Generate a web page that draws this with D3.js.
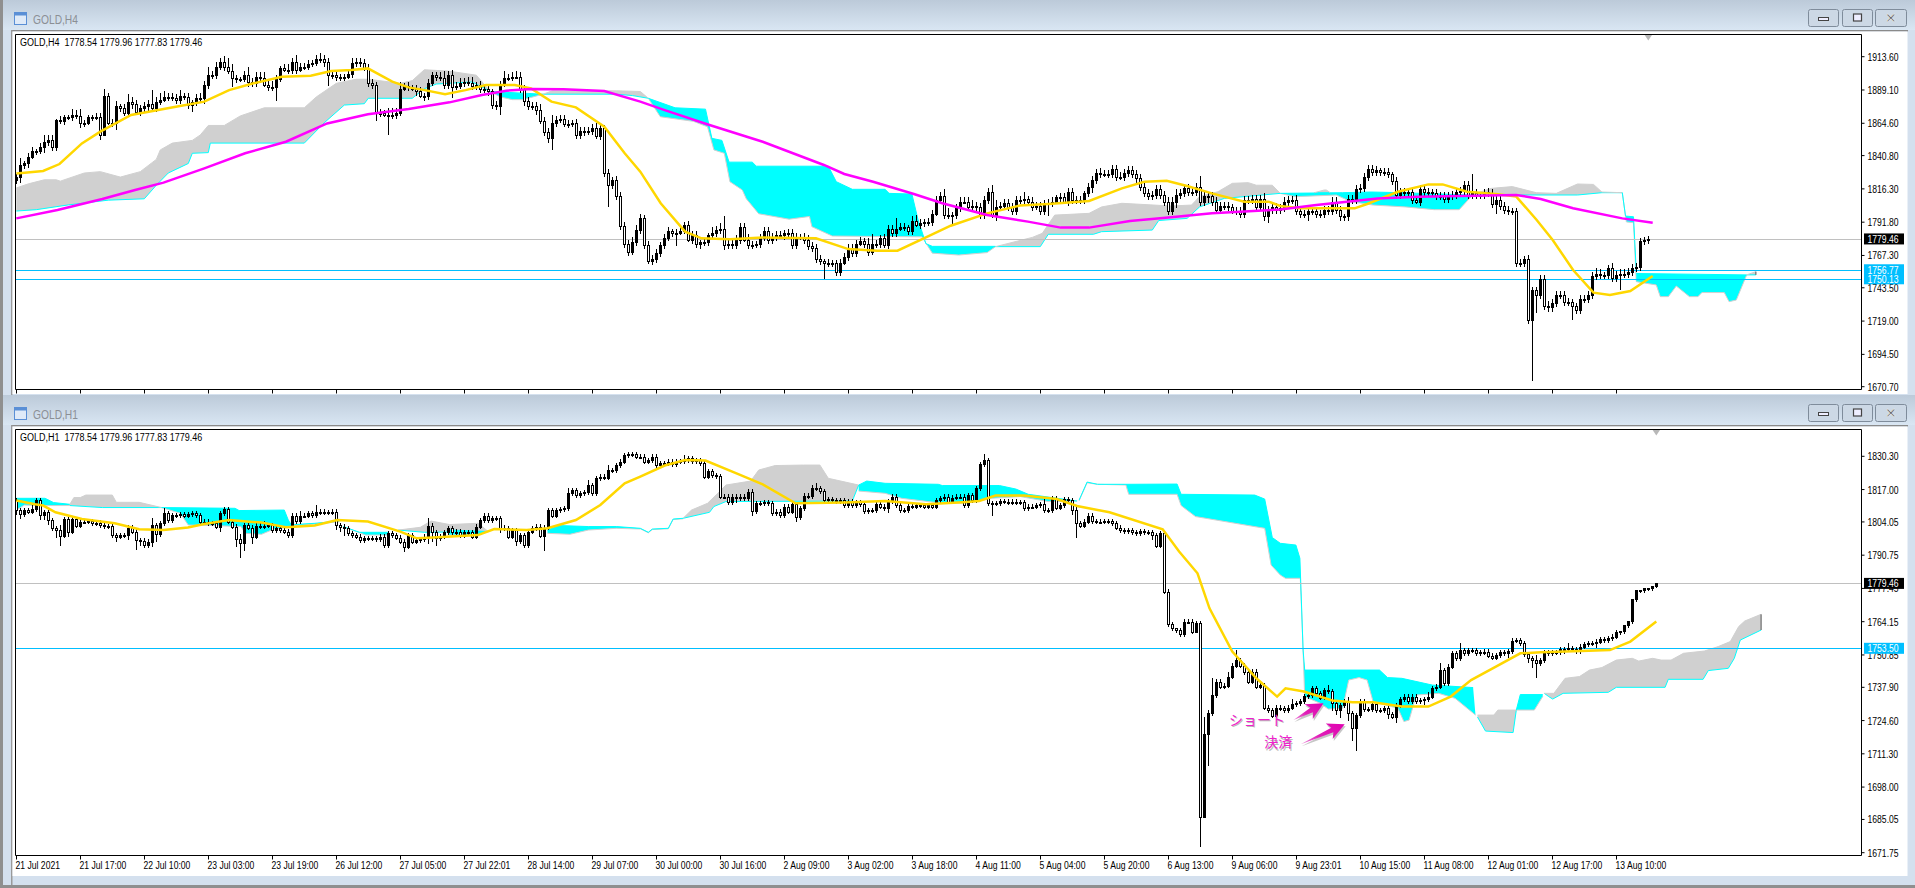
<!DOCTYPE html>
<html><head><meta charset="utf-8">
<style>html,body{margin:0;padding:0;background:#d4e0ee;overflow:hidden}svg{display:block}</style>
<script src="https://cdnjs.cloudflare.com/ajax/libs/d3/7.8.5/d3.min.js"></script>
</head><body><div id="c"></div>
<script>
// ---------- H4 chart values ----------
const h4FirstOpen = 1823;
const h4Closes = [1825,1834,1835,1840,1844,1844,1847,1851,1852,1847,1867,1866,1869,1869,1871,1870,1865,1865,1869,1869,1869,1856,1885,1865,1865,1877,1876,1872,1880,1879,1873,1876,1877,1879,1876,1880,1882,1884,1884,1883,1882,1885,1884,1878,1880,1883,1883,1893,1900,1900,1906,1910,1906,1903,1898,1897,1897,1900,1895,1894,1899,1898,1893,1891,1891,1897,1905,1904,1904,1910,1904,1906,1906,1908,1909,1912,1912,1910,1900,1900,1899,1899,1899,1901,1909,1910,1909,1905,1894,1893,1872,1872,1871,1871,1871,1872,1890,1892,1891,1890,1888,1885,1885,1894,1900,1899,1898,1893,1900,1891,1892,1894,1895,1894,1892,1893,1890,1890,1888,1878,1877,1893,1898,1898,1899,1899,1890,1881,1877,1877,1874,1866,1858,1854,1865,1867,1868,1864,1864,1865,1856,1859,1858,1859,1861,1855,1861,1828,1819,1823,1811,1789,1776,1770,1777,1786,
1795,1775,1763,1765,1769,1775,1780,1785,1784,1784,1785,1790,1779,1782,1776,1777,1777,1782,1784,1786,1787,1775,1776,1775,1779,1788,1779,1775,1775,1776,1780,1785,1779,1781,1782,1782,1784,1784,1775,1781,1781,1779,1774,1773,1765,1763,1762,1762,1762,1755,1762,1766,1773,1769,1776,1778,1776,1770,1776,1776,1780,1775,1787,1784,1787,1788,1788,1785,1793,1790,1791,1792,1792,1798,1808,1811,1797,1797,1797,1802,1807,1807,1803,1804,1803,1797,1808,1814,1796,1803,1804,1806,1803,1800,1808,1808,1809,1807,1803,1804,1800,1805,1806,1807,1810,1810,1807,1814,1808,1808,1808,1813,1818,1823,1828,1827,1827,1827,1831,1825,1825,1828,1830,1827,1824,1818,1813,1811,1812,1816,1812,1807,1800,1807,1812,1813,1817,1814,1814,1818,1807,1811,1811,1807,1801,1804,1804,1803,1800,1800,1798,1808,1808,1809,1803,1809,1796,1801,1803,
1801,1802,1807,1808,1808,1800,1798,1798,1800,1800,1798,1798,1801,1800,1807,1801,1796,1796,1809,1808,1816,1817,1825,1831,1829,1830,1829,1829,1827,1822,1812,1814,1814,1814,1808,1807,1816,1814,1814,1813,1811,1811,1809,1811,1812,1814,1815,1819,1812,1813,1812,1812,1814,1813,1805,1808,1804,1801,1800,1800,1762,1762,1765,1720,1742,1738,1750,1730,1729,1732,1738,1738,1733,1733,1730,1727,1735,1735,1738,1752,1754,1753,1753,1758,1751,1753,1754,1754,1755,1758,1759,1778,1779,1779.46];
const h4WickUp = [2,5,2,3,3,2,3,5,4,4,1,3,2,2,4,3,6,2,2,2,3,3,5,2,3,4,2,3,6,4,3,2,3,3,3,4,5,4,3,3,3,4,2,3,2,3,4,3,6,3,4,3,4,3,5,2,2,3,6,3,3,3,4,3,5,3,2,3,4,3,5,3,3,3,2,3,4,3,3,2,2,2,2,2,4,3,3,3,3,3,2,3,2,5,5,4,5,2,3,2,3,3,2,3,2,2,3,5,3,4,3,4,3,4,5,2,3,3,3,2,3,3,5,3,3,4,3,3,3,3,3,5,3,3,6,3,3,3,3,2,3,3,3,3,3,4,3,2,3,2,3,3,3,3,4,4,3,2,3,3,3,2,3,3,2,3,3,2,3,3,3,2,3,2,4,3,4,3,3,3,3,3,3,4,3,2,3,3,3,3,3,3,2,3,3,3,2,3,3,3,3,3,2,3,2,2,3,3,3,3,3,3,2,4,3,3,2,3,3,3,3,3,3,2,3,4,3,2,3,3,3,3,5,5,2,3,3,3,3,4,3,3,3,3,5,5,3,3,3,3,3,3,5,2,3,3,3,3,3,3,2,3,3,3,3,3,3,2,3,3,3,4,3,3,3,3,4,3,3,3,3,3,3,3,3,3,3,3,3,3,4,3,3,3,3,3,3,3,3,3,3,3,3,3,2,3,3,3,3,3,3,3,4,3,3,3,3,3,3,3,4,3,3,3,3,3,3,3,3,3,3,3,2,3,3,3,3,3,3,3,3,2,3,3,2,3,3,3,2,2,3,3,3,3,2,3,3,3,3,3,3,3,3,3,3,3,2,2,3,3,3,3,3,3,2,2,3,2,3,2,2,3,3,4,3,3,3,3,3,2,2,3,3,3,3,4,3,2,2,4,3,3,3,3,3,3,2,2,2,1];
const h4WickDown = [3,4,3,3,2,3,2,4,3,3,3,2,3,2,3,2,4,3,2,3,2,4,1,2,3,5,3,2,3,4,2,3,3,4,3,3,2,2,3,2,3,3,2,3,5,3,3,4,3,3,3,2,3,2,3,3,2,2,4,3,3,3,2,3,3,3,2,2,3,3,3,2,2,2,2,2,3,4,3,3,3,3,3,2,3,3,3,2,3,3,3,3,2,3,3,3,2,2,3,2,3,2,4,3,2,3,2,3,3,3,2,2,3,2,3,3,3,3,3,3,3,3,2,2,2,2,3,4,3,3,3,2,3,4,3,3,2,2,3,2,3,3,3,2,3,2,3,3,3,3,3,3,3,3,2,3,3,3,2,3,3,3,3,2,3,3,2,2,2,3,3,3,3,3,2,3,3,4,3,3,3,3,2,3,3,2,3,2,3,3,3,2,3,4,3,3,2,3,3,3,3,3,3,3,3,3,3,2,3,3,3,2,3,3,2,3,3,2,3,3,3,2,3,3,3,2,3,3,3,3,2,3,3,3,3,3,3,2,3,3,3,3,3,3,1,3,3,2,3,3,3,3,3,3,3,2,3,3,3,3,2,3,2,3,3,3,3,3,3,5,3,3,2,3,3,3,2,3,3,3,4,3,3,3,3,3,3,3,3,3,3,3,3,3,3,3,3,3,5,3,3,3,3,3,2,3,3,3,3,3,3,3,3,3,3,3,3,3,3,3,3,3,3,5,3,3,3,3,3,3,3,3,3,3,3,3,3,3,3,3,3,3,3,3,3,3,3,3,3,3,2,3,3,3,3,3,3,3,3,3,3,3,3,3,3,3,3,3,3,3,3,3,3,3,3,3,3,3,3,3,3,3,3,3,3,3,3,3,3,3,3,3,3,3,3,3,3,3,3,3,3,3,3,3,3,3,3,3,3,3,3,3,3,3,3,2,2,2,1,1];
// unusually long wicks: bar, length
const h4LongUp = [[16,5],[22,5],[34,10],[53,7],[76,4],[109,4],[125,4],[134,6],[177,9],[214,7],[220,8],[233,5],[244,5],[245,5],[252,5],[296,8],[364,14]];
const h4LongDown = [[21,4],[54,7],[65,10],[78,8],[90,6],[93,15],[109,8],[121,6],[134,9],[148,16],[165,10],[171,4],[193,4],[202,12],[234,7],[258,9],[290,5],[313,5],[334,3],[370,7],[379,45],[380,13],[389,10],[401,11]];
const h4Yellow = [[0,1827.7],[2.1,1828.2],[6.7,1829.5],[10.8,1834.6],[16.4,1849.8],[21,1858.4],[28.7,1870.7],[39.9,1876.8],[47,1880.5],[53.2,1889],[59.3,1894],[66.4,1898.9],[73.6,1899.6],[78.7,1903],[83.8,1903.8],[87.9,1905],[94,1895.2],[98.1,1891],[102.1,1889],[107.2,1885.9],[112.3,1889],[117.4,1892.7],[124.6,1892.7],[128.7,1890.3],[133.8,1880.5],[139.9,1876.3],[147,1862.1],[152.1,1842.5],[156,1829],[161.1,1805.7],[167.2,1784.8],[171.3,1779.9],[178.4,1779.2],[186.6,1780.6],[199.9,1779.9],[208,1772],[215.2,1770.8],[220.3,1770.8],[227.4,1780.6],[233.6,1789.2],[242.7,1798.3],[250.9,1804],[258,1805.2],[268.2,1807.4],[276.4,1816.7],[282,1821.6],[287.6,1822.3],[292.7,1818.4],[298.9,1813],[307,1806.9],[313.1,1806.9],[316,1803.7],[320.9,1802],[334.6,1802],[337.7,1805.2],[345.4,1814.2],[353,1819.6],[356.6,1819.6],[362.7,1814.2],[369.9,1812.5],[375,1810.6],[380.1,1793.4],[384.1,1778.7],[389.2,1756.6],[394.3,1739.9],[398.4,1738.2],[403.5,1741.1],[409.1,1752.2]];
const h4Magenta = [[0,1794.6],[10.3,1800.8],[21.5,1808.9],[29.7,1815.5],[36.8,1820.9],[47,1831.4],[57.2,1842.5],[67.4,1851],[77.7,1864.5],[87.9,1871.2],[98.1,1875.1],[108.3,1880],[116.4,1885.4],[122.5,1888.6],[128.7,1889.8],[136.8,1889.6],[147,1888.3],[156,1880.5],[162.1,1874.3],[173.3,1863.3],[186.6,1851],[201.9,1833.9],[207,1827.3],[214.2,1821.6],[224.4,1812.5],[231.5,1805.7],[242.7,1797.1],[252.9,1792.2],[261.1,1787.8],[268.2,1787.8],[278.4,1792.7],[288.7,1795.4],[298.9,1798.3],[316,1801.2],[325,1804.4],[340.3,1809.3],[350.5,1810.6],[375,1811.8],[381.1,1808.9],[389.2,1802],[401.5,1794.6],[409.1,1791.4]];
// cloud pieces: colour, upper edge, lower edge
const h4Clouds = [
 ['g',[[0,1817],[3,1820],[7,1823],[10,1823],[11,1822],[17,1828],[21,1829],[26,1825],[31,1829],[35,1838],[36,1845],[39,1850],[44,1852],[46,1856],[48,1863],[52,1863],[56,1870],[62,1876],[72,1876],[75,1884],[80,1894],[85,1897],[88,1897],[96,1894],[99,1896],[102,1904],[108,1903],[115,1900],[118.5,1888]],
      [[0,1800],[5,1801],[13,1804.5],[23,1808],[32,1809],[35,1819],[38,1828],[43,1835],[44,1842.5],[48,1843],[48.5,1850],[72,1850],[77,1865],[82,1878],[87,1879],[88,1883],[99,1883],[102,1890],[105,1893.5],[114,1895],[118.5,1888]]],
 ['c',[[118.5,1888],[131.7,1886]],[[118.5,1888],[121,1884],[124,1882],[126.6,1882],[131.7,1886]]],
 ['g',[[131.7,1886],[134,1888.5],[150,1888.5],[156,1888],[158,1883]],[[131.7,1886],[150,1886],[154,1885],[158,1883]]],
 ['c',[[158,1883],[164.7,1876],[172.3,1875],[173.9,1853.5],[176.4,1852],[178.2,1836],[184,1836],[185,1833],[203,1833],[205,1821.6],[209,1816],[217.2,1816],[218.2,1813],[223.9,1812.5],[225.4,1794],[227.4,1776],[229,1774],[244.8,1774]],
      [[158,1883],[161,1869.4],[169.3,1866],[172.8,1862],[174.4,1845],[177,1842.5],[178.4,1821.6],[181.5,1815.5],[182.5,1809],[185.6,1798],[193.2,1794],[198.3,1796],[198.9,1788.5],[204,1781.6],[226.4,1781],[229,1769],[235.6,1767.6],[242.7,1769.4],[244.8,1773.8]]],
 ['g',[[244.8,1773.8],[254,1780.6],[256.5,1783.6],[259.6,1797],[268.2,1798.3],[271.3,1803],[276.4,1805.7],[288.7,1803.7],[293.8,1804.4],[295.8,1810.6],[300.4,1814.2],[304,1820.4],[308,1820.9],[310,1819],[314,1819],[316,1813]],
      [[244.8,1773.8],[256,1773.8],[258,1782.9],[269.3,1782.9],[271.3,1784.8],[284,1786],[285.6,1793],[292.7,1794.6],[295.8,1803],[302,1809.3],[316,1813]]],
 ['c',[[316,1813],[331.6,1813.5],[338.7,1814],[346.4,1813.5],[363.7,1811.8]],[[316,1813],[317.8,1811.8],[319.9,1810.6],[330,1811.8],[333.6,1807],[339.2,1804.4],[347.4,1803],[354.5,1801],[360.7,1801],[363.7,1810.6]]],
 ['g',[[324.5,1813.5],[327,1815.5],[327.5,1815.5],[328.5,1813.5]],[[324.5,1813.5],[328.5,1813.5]]],
 ['g',[[363.7,1811.8],[368.8,1816.7],[374,1818],[380,1813.5],[385,1813],[390.3,1819.9],[394.3,1819.6],[396.4,1814],[401.5,1813.5]],[[363.7,1811.8],[390.3,1811.8],[396.4,1813.5],[401.5,1813.5]]],
 ['c',[[401.5,1813.5],[402.3,1796.3],[404.3,1795.8],[405,1755.4]],[[401.5,1813.5],[402.5,1792],[404.3,1791.4],[405,1748]]],
 ['c',[[405,1754],[432.6,1753]],[[405,1748],[410,1745.6],[411,1737],[413,1737],[415,1744.8],[418.3,1737],[420.4,1737],[421.4,1740],[427,1740],[428.2,1733.3],[430,1734.5],[432.6,1753]]],
 ['g',[[432.6,1753],[434.9,1755.4]],[[432.6,1753],[434.9,1753]]]
];
const h4CloudEnd = [434.9,1753,1755.4];
const h4YTicks = [1913.60,1889.10,1864.60,1840.80,1816.30,1791.80,1767.30,1743.50,1719.00,1694.50,1670.70];
const h4Levels = [1756.77,1750.13];

// ---------- H1 chart values ----------
const h1FirstOpen = 1812.8;
const h1Closes = [1808.8,1807.1,1808.8,1808.2,1809.1,1812.8,1806.8,1807.9,1804.8,1801.5,1800.8,1798.6,1805.2,1800.2,1805.2,1802.6,1804.2,1804.2,1804.4,1803.5,1803.8,1802.8,1802.4,1802.4,1798.8,1798.2,1798.8,1798.8,1801.8,1800.2,1796.8,1796.6,1794.8,1796.2,1802.8,1799.1,1803.5,1807.5,1804.8,1806.8,1806.8,1807.1,1806.6,1807.2,1807.5,1806.8,1804.2,1804.2,1803.5,1803.5,1802.2,1807.5,1809.2,1804.2,1802.2,1797.2,1795.5,1802.8,1801.8,1798.2,1802.6,1802.2,1802.6,1802.8,1800.8,1801.8,1800.8,1800.2,1798.8,1806.6,1804.4,1806.6,1806.6,1807.5,1806.8,1807.9,1808.2,1807.9,1807.9,1808.2,1802.8,1802.2,1801.5,1799.5,1798.8,1798.2,1796.8,1797.5,1797.5,1797.5,1797.2,1798.2,1794.8,1799.5,1798.8,1797.8,1796.2,1794.2,1798.8,1796.2,1796.8,1797.2,1798.2,1802.6,1799.9,1797.5,1798.2,1799.9,1801.5,1799.9,1800.2,1798.6,1799.9,1799.9,1798.2,1802.2,1804.8,1806.6,1804.8,1805.5,1805.5,1801.8,1801.5,1798.2,1800.8,1796.4,1798.8,1794.8,1800.2,1801.5,1802.2,1798.6,1801.8,1808.8,1806.6,1808.8,1809.2,1809.5,1815.5,1816.8,1814.8,1815.5,1815.9,1818.8,1815.5,1821.5,1822.2,1821.8,1824.8,1824.8,1826.8,1828.2,1830.8,1831.1,1831.1,1830.2,
1830.2,1828.2,1828.8,1830.2,1826.8,1827.5,1827.5,1828.2,1827.1,1828.2,1828.4,1828.8,1829.5,1828.4,1828.8,1827.5,1822.2,1824.4,1822.8,1822.4,1814.2,1814.2,1811.9,1814.2,1813.5,1814.2,1813.5,1816.2,1808.4,1811.5,1811.5,1811.9,1811.5,1807.5,1808.2,1806.8,1810.2,1808.2,1811.2,1805.9,1809.5,1814.6,1814.4,1817.8,1817.5,1816.4,1812.8,1813.2,1812.8,1812.4,1812.8,1810.8,1812.4,1810.8,1811.9,1811.1,1808.4,1808.8,1808.8,1811.1,1810.2,1809.5,1812.4,1814.2,1810.8,1808.8,1808.8,1810.6,1810.2,1810.8,1810.8,1810.2,1810.8,1810.2,1812.8,1813.5,1814.2,1812.2,1813.8,1814.2,1814.2,1810.8,1814.8,1812.8,1817.5,1827.1,1828.8,1811.5,1811.5,1811.5,1812.4,1812.2,1811.9,1812.2,1811.9,1811.9,1809.5,1810.2,1810.2,1810.8,1811.1,1808.8,1808.8,1813.5,1809.8,1810.8,1813.2,1812.8,1808.8,1803.5,1802.6,1804.2,1806.6,1804.4,1804.2,1804.2,1804.4,1804.4,1803.5,1801.8,1800.8,1800.4,1800.8,1799.9,1799.5,1800.4,1799.9,1799.9,1798.8,1794.6,1799.5,1776.2,1763.1,1761.5,1760.8,1759.1,1764.2,1764.2,1760.2,1763.5,1686.2,1719.1,1727.5,1734.8,1740.2,1738.2,1738.5,1742.2,1746.5,1748.8,1746.5,1743.9,1740.2,1744.2,1738.2,1738.8,1729.8,1728.8,1726.6,1729.8,
1729.5,1728.8,1729.8,1731.1,1731.5,1732.4,1734.4,1734.8,1737.5,1735.5,1733.8,1736.8,1736.4,1731.5,1728.8,1730.8,1732.2,1727.5,1721.5,1726.8,1732.4,1729.2,1729.2,1731.1,1728.8,1728.8,1729.5,1727.1,1726.2,1730.8,1733.2,1734.2,1732.4,1734.2,1732.4,1732.8,1733.2,1734.2,1737.5,1738.2,1744.8,1739.5,1746.2,1751.5,1749.5,1752.8,1751.5,1752.8,1752.8,1751.5,1751.9,1752.2,1750.6,1749.8,1750.8,1751.9,1751.5,1752.4,1756.6,1756.8,1755.5,1751.1,1749.5,1748.8,1747.5,1748.8,1751.9,1751.5,1751.9,1751.9,1753.2,1753.2,1753.5,1753.2,1752.4,1754.2,1755.2,1755.5,1755.5,1756.2,1757.2,1756.8,1757.5,1758.2,1759.9,1760.4,1762.8,1764.4,1773.2,1776.8,1776.8,1777.5,1777.5,1778.6,1779.46];
const h1WickUp = [1,1,1,1,2,1,1,1,1,1,1,2,1,1,1,1,1,1,1,1,1,1,1,1,1,1,1,1,1,1,1,1,1,1,1,1,1,2,1,1,1,1,1,1,1,1,1,1,1,1,1,1,1,1,1,1,2,1,1,1,1,1,2,1,1,1,1,1,1,1,1,2,1,1,1,1,1,1,1,1,1,1,1,1,1,1,1,1,1,1,1,1,1,1,1,1,1,1,1,1,1,1,1,1,1,1,1,1,1,1,1,1,1,1,1,1,1,1,1,1,1,1,1,1,1,1,1,1,1,1,1,1,1,1,1,1,1,1,2,1,1,1,1,2,1,1,1,1,2,1,1,1,1,1,1,1,1,1,1,1,1,1,1,1,1,1,1,2,1,1,1,1,1,1,1,1,1,1,1,1,1,1,1,1,1,1,1,1,1,1,1,1,1,1,1,1,1,1,1,1,2,1,1,1,1,1,1,1,1,1,1,1,1,1,1,1,1,1,1,1,1,1,1,1,1,1,1,1,1,1,1,1,1,1,1,1,1,1,1,1,1,1,1,1,1,1,1,1,1,1,1,1,1,1,1,1,1,2,1,1,1,1,1,1,1,2,1,1,1,1,1,1,1,1,1,1,1,1,1,1,1,1,1,1,1,1,1,1,1,1,0,1,1,1,1,1,1,1,1,1,1,1,1,2,1,1,1,1,1,1,1,1,1,1,1,1,1,1,1,2,1,1,1,1,1,1,1,1,2,1,1,1,1,1,1,1,1,1,1,1,1,1,1,1,1,1,1,1,1,1,1,1,1,2,1,1,1,1,1,1,1,1,1,1,1,1,1,1,1,1,1,1,1,1,1,1,1,1,1,1,2,1,1,1,1,1,1,1,2,1,1,1,1,1,1,1,1,1,1,1,1];
const h1WickDown = [2,2,1,1,1,1,2,2,2,1,3,1,1,2,1,1,1,1,1,1,1,1,1,1,1,2,1,1,2,1,1,2,1,1,2,3,1,1,1,1,1,1,1,1,1,1,1,1,1,1,1,2,1,1,1,3,1,1,1,1,1,1,1,1,1,1,1,1,1,1,1,1,1,1,1,1,1,1,1,1,2,2,3,1,1,1,1,1,1,1,1,1,1,1,1,1,1,2,1,1,1,1,1,3,1,3,1,1,1,1,1,1,1,1,1,1,1,1,1,1,1,2,1,1,1,2,1,1,1,1,1,1,1,1,1,1,1,1,1,1,1,1,1,1,1,1,1,1,1,1,1,1,1,1,1,1,1,1,1,1,1,1,1,1,1,1,1,1,1,1,1,1,1,1,1,1,1,1,1,1,2,1,1,1,2,1,1,1,1,1,1,1,1,1,1,2,1,1,1,1,1,1,1,1,1,1,1,1,1,1,1,1,1,1,1,1,1,1,2,1,1,1,1,1,1,1,1,1,1,1,1,1,1,1,1,1,1,1,1,1,1,1,1,1,1,1,1,1,1,1,1,1,1,1,1,1,1,1,1,1,1,1,1,1,2,1,1,1,1,1,1,1,1,1,1,1,1,1,1,1,1,1,1,1,2,1,1,1,1,1,1,1,1,1,1,0,0,1,1,1,1,1,1,1,1,1,1,1,1,1,1,1,1,1,1,1,1,1,1,1,1,1,1,1,1,1,1,1,1,1,2,1,1,1,1,1,1,1,1,1,1,1,1,2,1,1,1,1,1,1,1,1,2,1,1,1,1,1,1,1,1,1,1,1,1,1,1,1,1,1,1,1,1,2,1,1,1,1,2,3,1,1,1,1,1,1,1,2,1,1,1,1,1,1,1,2,1,1,1,1,1,1,1,1,1,1,1,1,1,1,1];
const h1LongUp = [[34,3],[75,3],[103,3],[242,2.6],[297,7],[298,1.3],[299,7],[305,4],[333,2],[356,3],[361,3]];
const h1LongDown = [[11,4],[30,4],[56,6],[57,3],[59,3],[104,4],[132,6],[244,5],[265,6],[296,12],[297,0],[298,12.5],[329,3],[331,3],[333,3],[334,5],[335,9],[345,2.5],[380,6]];
const h1Yellow = [[0,1812.6],[4.7,1811.1],[6.7,1810.6],[9.8,1807.9],[16.4,1805.2],[24.6,1803.5],[30.7,1801.1],[36.8,1800.8],[42.9,1801.8],[47,1803.2],[53.2,1804.8],[61.3,1803.8],[67.4,1801.9],[74.6,1802.6],[80.2,1804.8],[87.9,1804.2],[96,1800.2],[100.1,1797.5],[104.2,1797.8],[115.4,1798.8],[119.5,1801.2],[127.6,1800.8],[132.8,1801.5],[139.9,1804.8],[146,1810.8],[152.1,1819.5],[156,1822.2],[162.1,1826.6],[167.2,1828.8],[172.3,1828.6],[180.5,1823.2],[186.6,1819.1],[194.8,1811.5],[207,1811.8],[217.2,1812.4],[227.4,1811.1],[236.6,1811.9],[240.7,1812.4],[244.8,1814.6],[251.9,1814.6],[260.1,1813.2],[265.2,1810.4],[273.3,1807.9],[286.6,1801.1],[290.7,1792.2],[295.3,1783.5],[298.3,1769.5],[304,1752.2],[310,1741.5],[315.2,1734.2],[317.3,1737.5],[321.9,1736.2],[329,1732.6],[334.1,1731.9],[339.2,1731.9],[346.4,1730.2],[353,1730.2],[358.6,1734.2],[363.7,1740.8],[369.9,1746.2],[376,1751.5],[381.1,1751.9],[391.3,1752.4],[398.4,1752.8],[403.5,1756.2],[410,1764.2]];
const h1Clouds = [
 ['c',[[0,1813.5],[7.2,1813.5],[9.3,1811.8],[13.4,1811.1]],[[0,1808.8],[2,1810.8],[6,1810.6],[13.4,1810.6]]],
 ['g',[[13.4,1811.1],[14.4,1813.8],[16,1813.8],[17.4,1814.8],[24,1814.8],[25,1811.9],[30.7,1811.9],[36.3,1809.8]],[[13.4,1810.6],[21.5,1809.8],[36.3,1809.8]]],
 ['c',[[36.3,1809.8],[54.7,1809.5],[55.7,1808.6],[67,1808.8],[68,1804.8],[69,1802.2]],[[36.3,1809.8],[41,1807.5],[43,1802.8],[49,1802.6],[56.2,1802.2],[57.2,1799.5],[61.3,1799.1],[64.4,1801.2],[69,1802.2]]],
 ['c',[[69.5,1803],[74.6,1803.5],[80.7,1804.4]],[[69.5,1802.6],[74.6,1803.2],[80.7,1804.1]]],
 ['c',[[81.7,1802.2],[85.8,1799.9],[93,1799.9]],[[81.7,1802.2],[87.3,1798.8],[93,1798.8]]],
 ['g',[[95.5,1800.8],[101,1801.9],[103.7,1804.4],[108.3,1803],[115.4,1803.5],[118,1800.2]],[[95.5,1800.8],[102,1799.9],[118,1800.2]]],
 ['c',[[108.3,1800.8],[118,1800.2]],[[108,1798.8],[115.4,1798.8],[118,1800.2]]],
 ['c',[[132.8,1800.8],[135.8,1802.6],[143,1802.2],[150,1802.2],[156,1801.5]],[[132.8,1799.5],[138.4,1799.1],[143,1800.8],[150,1801.5],[156,1801.2]]],
 ['c',[[156,1801.5],[158,1799.9],[159,1801.2],[163,1801.5],[164.2,1805.2],[166.7,1805.5]],[[156,1801.3],[158,1799.7],[159,1801],[163,1801.3],[164.2,1805],[166.7,1805.3]]],
 ['g',[[166.7,1805.5],[168.8,1808.8],[172.8,1811.5],[175.4,1815.5],[177.4,1818.8],[183.6,1820.4],[185.6,1824.8],[189.7,1826.6],[196.8,1826.8],[200.9,1826.8],[203,1821.5],[210.6,1818.8]],[[166.7,1805.5],[173.3,1807.9],[174.4,1810.2],[177.4,1812.2],[209,1812.4],[210.6,1818.8]]],
 ['c',[[210.6,1818.8],[212.6,1820.4],[217.2,1819.5],[230.5,1819.1],[231.5,1818.6],[245.8,1818.6],[249.9,1817.2],[253,1815.1],[265.2,1812.4]],[[210.6,1816.4],[217.2,1815.5],[221.3,1813.5],[229.5,1811.9],[237.6,1811.5],[243.8,1813.5],[251,1814.2],[258,1812.2],[265.2,1812.4]]],
 ['c',[[265.7,1812.8],[267.7,1820],[270.3,1819.1]],[[265.7,1812.5],[267.7,1819.7],[270.3,1819.1]]],
 ['c',[[270.3,1819.1],[277.4,1819.1],[290.2,1819.2],[291.2,1815.1],[309.6,1814.8],[312.1,1813.2],[314,1797.8],[316,1795.5],[319.9,1794.8],[320.9,1789.5],[321.7,1752.8],[322.1,1744.8],[340.8,1744.8],[342.8,1741.8],[346.4,1741.5],[354,1738.8],[364.2,1737.8]],
      [[270.3,1819.1],[277.4,1818.8],[278.1,1815.1],[290.2,1815.1],[291.2,1810.6],[294.8,1806.2],[312.1,1801.5],[313.7,1786.8],[316,1782.8],[317.3,1781.5],[321,1781.5],[321.5,1761.5],[322.1,1734.2],[326,1731.5],[328,1729.2],[331.6,1729.5],[333.1,1740.8],[335.7,1741.8],[337.7,1740.8],[339.2,1732.2],[345.4,1729.5],[346.9,1724.2],[348.2,1724.8],[350,1734.8],[355.6,1735.5],[359.7,1733.5],[364.8,1726.8]]],
 ['g',[[365.3,1726.8],[369.4,1726.8],[370.4,1728.8],[375,1728.8]],[[365.3,1726],[367.3,1720.4],[374.2,1719.8],[375,1728.8]]],
 ['c',[[375,1728.8],[376,1735],[381.6,1735]],[[375,1728.8],[379.5,1728.8],[381.6,1734.2]]],
 ['g',[[382,1735.5],[384.4,1735.5],[387.2,1741.5],[390.8,1742.2],[393.3,1744.8],[396.4,1745.8],[400,1748.8],[404,1749.5],[405.6,1748.4],[409.1,1749.5],[411.2,1748.8],[413.7,1748.8],[416.8,1751.5],[422,1752.4],[425.5,1754.2],[428.5,1756.2],[430.6,1762.2],[432.1,1764.4],[436.2,1767.1]],
      [[382,1735.5],[383.1,1734.2],[384.1,1733.2],[386.7,1735.5],[398,1735.9],[400,1737.9],[412.2,1737.9],[413,1741.1],[421.7,1741.1],[423,1744.6],[428,1745.5],[429.5,1749.5],[431,1756.8],[436.2,1760.8]]]
];
const h1CloudEnd = [436.2,1760.8,1767.1];
const h1YTicks = [1830.30,1817.00,1804.05,1790.75,1777.45,1764.15,1750.85,1737.90,1724.60,1711.30,1698.00,1685.05,1671.75];
const h1Levels = [1753.50];
const xLabels = ["21 Jul 2021","21 Jul 17:00","22 Jul 10:00","23 Jul 03:00","23 Jul 19:00","26 Jul 12:00","27 Jul 05:00","27 Jul 22:01","28 Jul 14:00","29 Jul 07:00","30 Jul 00:00","30 Jul 16:00","2 Aug 09:00","3 Aug 02:00","3 Aug 18:00","4 Aug 11:00","5 Aug 04:00","5 Aug 20:00","6 Aug 13:00","9 Aug 06:00","9 Aug 23:01","10 Aug 15:00","11 Aug 08:00","12 Aug 01:00","12 Aug 17:00","13 Aug 10:00"];
const lastPrice = 1779.46;
const h1Arrows = [[[319.3,1724.8],[326.8,1731.5]],[[321.1,1715.1],[332.1,1723.1]]];
const h1Notes = [["ショート",317.2,1723],["決済",319,1714]];

// ---------- drawing ----------
const W=1915,H=888;
const svg=d3.select('#c').append('svg').attr('width',W).attr('height',H);
const defs=svg.append('defs');
const grad=defs.append('linearGradient').attr('id','tb').attr('x1',0).attr('x2',0).attr('y1',0).attr('y2',1);
grad.append('stop').attr('offset',0).attr('stop-color','#bccad9');
grad.append('stop').attr('offset',1).attr('stop-color','#d9e6f3');
const sx=0.82;
function label(g,x,y,t,o={}){
  return g.append('text').attr('transform',`translate(${x},${y}) scale(${sx},1)`).text(t)
   .attr('font-family','"Liberation Sans",Arial,sans-serif').attr('font-size',o.size||10.5)
   .attr('fill',o.fill||'#000').attr('text-anchor',o.anchor||'start');
}
const fmt=d3.format('.2f');
function panel(o){
  const g=svg.append('g');
  const T=o.top, plotL=15.5, plotR=1861.5;
  g.append('rect').attr('x',0).attr('y',T).attr('width',W).attr('height',o.winH).attr('fill','#d4e0ee');
  g.append('rect').attr('x',3).attr('y',T).attr('width',W-3).attr('height',30).attr('fill','url(#tb)');
  g.append('rect').attr('x',0).attr('y',T).attr('width',3).attr('height',o.winH).attr('fill','#8f8f8f');
  g.append('rect').attr('x',11).attr('y',T+30).attr('width',1897).attr('height',1.5).attr('fill','#8a8a8a');
  g.append('rect').attr('x',11).attr('y',T+30).attr('width',1.5).attr('height',o.winH-30).attr('fill','#9a9a9a');
  g.append('rect').attr('x',12.5).attr('y',T+31.5).attr('width',1895).attr('height',o.winH-31.5-o.foot).attr('fill','#fff');
  const ic=g.append('g');
  ic.append('rect').attr('x',14.5).attr('y',T+12.5).attr('width',12).attr('height',12).attr('fill','#dfeaf8').attr('stroke','#5a8fd6');
  ic.append('rect').attr('x',14.5).attr('y',T+12.5).attr('width',12).attr('height',3).attr('fill','#5a8fd6');
  g.append('text').attr('transform',`translate(33,${T+23.5}) scale(${sx},1)`).text(o.title)
   .attr('font-family','"Liberation Sans",Arial,sans-serif').attr('font-size',12.5).attr('fill','#8b8f95');
  [[1808,31],[1842,31],[1875,32]].forEach((b,i)=>{
    g.append('rect').attr('x',b[0]+.5).attr('y',T+9.5).attr('width',b[1]-1).attr('height',17).attr('rx',2).attr('fill','#ccd8e5').attr('stroke','#7f8c9b');
    const cx=b[0]+b[1]/2, cy=T+18;
    if(i==0) g.append('rect').attr('x',cx-5).attr('y',cy-.5).attr('width',10).attr('height',3).attr('fill','#eef').attr('stroke','#444');
    if(i==1) g.append('rect').attr('x',cx-4).attr('y',cy-4).attr('width',8).attr('height',7).attr('fill','#eef').attr('stroke','#444').attr('stroke-width',1.2);
    if(i==2) g.append('text').attr('x',cx).attr('y',cy+5).attr('text-anchor','middle').attr('font-size',14).attr('font-family','Liberation Sans').attr('fill','#555').attr('stroke','#fff').attr('stroke-width',.4).text('✕');
  });
  const x=d3.scaleLinear().domain([0,1]).range([16.3,20.3]);
  const y=d3.scaleLinear().domain(o.yDomain).range(o.yRange);
  const cid='clip'+T;
  defs.append('clipPath').attr('id',cid).append('rect').attr('x',plotL).attr('y',o.plotT).attr('width',plotR-plotL).attr('height',o.plotB-o.plotT);
  const p=g.append('g').attr('clip-path',`url(#${cid})`);
  const ln=d3.line().x(d=>x(d[0])).y(d=>y(d[1]));
  o.clouds.forEach(c=>{
    const up=c[1], lo=c[2];
    p.append('path').attr('d',ln(up.concat(lo.slice().reverse()))+'Z').attr('fill',c[0]=='c'?'#00ffff':'#d0d0d0');
    p.append('path').attr('d',ln(lo)).attr('fill','none').attr('stroke',c[0]=='c'?'#d0d0d0':'#00ffff').attr('stroke-width',1);
    p.append('path').attr('d',ln(up)).attr('fill','none').attr('stroke',c[0]=='c'?'#00ffff':'#d0d0d0').attr('stroke-width',1);
  });
  const ce=o.cloudEnd;
  p.append('line').attr('x1',x(ce[0])).attr('x2',x(ce[0])).attr('y1',y(ce[1])).attr('y2',y(ce[2])).attr('stroke','#555');
  p.append('line').attr('x1',plotL).attr('x2',plotR).attr('y1',Math.round(y(lastPrice))+.5).attr('y2',Math.round(y(lastPrice))+.5).attr('stroke','#c0c0c0');
  o.levels.forEach(v=>p.append('line').attr('x1',plotL).attr('x2',plotR).attr('y1',Math.round(y(v))+.5).attr('y2',Math.round(y(v))+.5).attr('stroke','#00bfff'));
  const longUp=new Map(o.longUp), longDown=new Map(o.longDown);
  const cg=p.append('g').attr('shape-rendering','crispEdges');
  o.closes.forEach((c,i)=>{
    const op=i?o.closes[i-1]:o.firstOpen;
    const wu=longUp.has(i)?longUp.get(i):(o.up[i]||0), wd=longDown.has(i)?longDown.get(i):(o.down[i]||0);
    const hi=Math.max(op,c)+wu, lo=Math.min(op,c)-wd;
    const bx=Math.floor(x(i));
    cg.append('line').attr('x1',bx+.5).attr('x2',bx+.5).attr('y1',y(hi)).attr('y2',y(lo)).attr('stroke','#000');
    const t=Math.round(y(Math.max(op,c))), b=Math.round(y(Math.min(op,c)));
    cg.append('rect').attr('x',bx-.5).attr('y',t+.5).attr('width',2).attr('height',Math.max(b-t,1))
      .attr('fill',c>=op?'#000':'#fff').attr('stroke','#000');
  });
  o.lines.forEach(l=>p.append('path').attr('d',ln(l[0])).attr('fill','none').attr('stroke',l[1]).attr('stroke-width',2.5));
  g.append('path').attr('d',`M${x(o.closes.length-1)-4},${o.plotT}L${x(o.closes.length-1)+4},${o.plotT}L${x(o.closes.length-1)},${o.plotT+6}Z`).attr('fill','#b8b8b8');
  g.append('line').attr('x1',plotL).attr('x2',plotR).attr('y1',o.plotT).attr('y2',o.plotT).attr('stroke','#000');
  g.append('line').attr('x1',plotL).attr('x2',plotR).attr('y1',o.plotB).attr('y2',o.plotB).attr('stroke','#000');
  g.append('line').attr('x1',plotL).attr('x2',plotL).attr('y1',o.plotT).attr('y2',o.plotB).attr('stroke','#000');
  g.append('line').attr('x1',plotR).attr('x2',plotR).attr('y1',o.plotT).attr('y2',o.plotB).attr('stroke','#000');
  o.yTicks.forEach(v=>{
    g.append('line').attr('x1',plotR).attr('x2',plotR+3).attr('y1',y(v)).attr('y2',y(v)).attr('stroke','#000');
    label(g,1867.5,y(v)+4,fmt(v));
  });
  xLabels.forEach((t,k)=>{
    const tx=Math.floor(x(k*16))+.5;
    g.append('line').attr('x1',tx).attr('x2',tx).attr('y1',o.plotB).attr('y2',o.plotB+4).attr('stroke','#000');
    if(o.xLabels) label(g,tx-1,o.plotB+13,t);
  });
  label(g,20,o.plotT+11.5,o.head,{size:11});
  o.levels.forEach(v=>{
    g.append('rect').attr('x',1864).attr('y',y(v)-5.5).attr('width',40).attr('height',11).attr('fill','#00bfff');
  });
  o.levels.forEach(v=>label(g,1867.5,y(v)+4,fmt(v),{fill:'#fff'}));
  g.append('rect').attr('x',1864).attr('y',y(lastPrice)-5.5).attr('width',40).attr('height',11).attr('fill','#000');
  label(g,1867.5,y(lastPrice)+4,fmt(lastPrice),{fill:'#fff'});
  return {g,x,y,p};
}
panel({top:0,winH:395,foot:1,plotT:34.5,plotB:389.5,yDomain:[1913.6,1670.7],yRange:[56.7,386.7],
  title:'GOLD,H4',head:'GOLD,H4\u00a0\u00a01778.54 1779.96 1777.83 1779.46',clouds:h4Clouds,cloudEnd:h4CloudEnd,levels:h4Levels,
  closes:h4Closes,firstOpen:h4FirstOpen,up:h4WickUp,down:h4WickDown,longUp:h4LongUp,longDown:h4LongDown,lines:[[h4Yellow,'#ffd700'],[h4Magenta,'#ff00ff']],yTicks:h4YTicks,xLabels:false});
const b=panel({top:395,winH:493,foot:12,plotT:429.5,plotB:855.5,yDomain:[1830.3,1671.75],yRange:[456.3,852.7],
  title:'GOLD,H1',head:'GOLD,H1\u00a0\u00a01778.54 1779.96 1777.83 1779.46',clouds:h1Clouds,cloudEnd:h1CloudEnd,levels:h1Levels,
  closes:h1Closes,firstOpen:h1FirstOpen,up:h1WickUp,down:h1WickDown,longUp:h1LongUp,longDown:h1LongDown,lines:[[h1Yellow,'#ffd700']],yTicks:h1YTicks,xLabels:true});
svg.append('rect').attr('x',0).attr('y',885).attr('width',W).attr('height',3).attr('fill','#8f8f8f');
const ag=b.g.append('g');
const ag2=defs.append('linearGradient').attr('id','arr').attr('x1',0).attr('x2',1).attr('y1',1).attr('y2',0);
ag2.append('stop').attr('offset',0).attr('stop-color','#ec90da');
ag2.append('stop').attr('offset',.4).attr('stop-color','#e020b8');
ag2.append('stop').attr('offset',1).attr('stop-color','#e000b0');
h1Arrows.forEach(a=>{
  const x0=b.x(a[0][0]),y0=b.y(a[0][1]),x1=b.x(a[1][0]),y1=b.y(a[1][1]);
  const dx=x1-x0,dy=y1-y0,L=Math.hypot(dx,dy),ux=dx/L,uy=dy/L,nx=-uy,ny=ux;
  const hl=Math.min(17,L*.55), pts=[
   [x0,y0],[x1-ux*hl*.8+nx*2.5,y1-uy*hl*.8+ny*2.5],[x1-ux*hl+nx*8.5,y1-uy*hl+ny*8.5],[x1,y1],
   [x1-ux*hl-nx*8.5,y1-uy*hl-ny*8.5],[x1-ux*hl*.8-nx*2.5,y1-uy*hl*.8-ny*2.5]];
  ag.append('path').attr('d',d3.line()(pts)+'Z').attr('fill','#a0a0a0').attr('transform','translate(1,2)').attr('opacity',.6);
  ag.append('path').attr('d',d3.line()(pts)+'Z').attr('fill','url(#arr)');
});
h1Notes.forEach(n=>{
  [['#bbb',1,1.5],['#ee22cc',0,0]].forEach(s=>{
    ag.append('text').attr('x',b.x(n[1])+s[1]).attr('y',b.y(n[2])+s[2]).attr('text-anchor','end')
      .attr('font-family','"Noto Sans CJK JP"').attr('font-size',14).attr('fill',s[0]).text(n[0]);
  });
});
</script></body></html>
